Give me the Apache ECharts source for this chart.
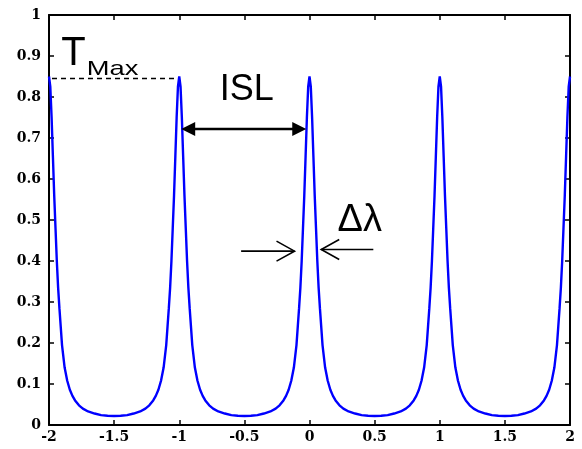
<!DOCTYPE html>
<html>
<head>
<meta charset="utf-8">
<script src="https://cdn.jsdelivr.net/npm/echarts@6/dist/echarts.min.js"></script>
<style>
  html, body { margin: 0; padding: 0; background: #fff; }
  #chart { width: 582px; height: 449px; }
</style>
</head>
<body>
<div id="chart"></div>
<script>
// Transmission peaks of the resonator, one every unit of detuning
const peakCenters = [-2, -1, 0, 1, 2];

// Half-period line shape: distance from a peak centre and transmission there
const profileOffset = [0, 0.01, 0.02, 0.03, 0.04, 0.05, 0.06, 0.07, 0.08, 0.09, 0.10,
                       0.12, 0.14, 0.16, 0.18, 0.20, 0.23, 0.26, 0.30, 0.35, 0.40, 0.45, 0.50];
const profileValue  = [0.850, 0.825, 0.750, 0.655, 0.560, 0.480, 0.400, 0.335, 0.285, 0.240, 0.195,
                       0.140, 0.108, 0.086, 0.071, 0.060, 0.048, 0.040, 0.033, 0.028, 0.024, 0.0225, 0.022];

const xRange = [-2, 2];
const yRange = [0, 1];

// Assemble the curve from the line shape around each peak
function buildCurve() {
  const pts = [];
  const seen = new Set();
  peakCenters.forEach(c => {
    const period = [];
    for (let i = profileOffset.length - 1; i > 0; i--) period.push([-profileOffset[i], profileValue[i]]);
    for (let i = 0; i < profileOffset.length; i++) period.push([profileOffset[i], profileValue[i]]);
    period.forEach(([o, v]) => {
      const x = +(c + o).toFixed(4);
      if (x < xRange[0] || x > xRange[1] || seen.has(x)) return;
      seen.add(x);
      pts.push([x, v]);
    });
  });
  pts.sort((a, b) => a[0] - b[0]);
  return pts;
}

const tickFont = { fontFamily: 'DejaVu Serif', fontWeight: 'bold', fontSize: 14, color: '#000' };

const chart = echarts.init(document.getElementById('chart'), null, { renderer: 'canvas' });

const axisLine = { show: true, onZero: false, lineStyle: { color: '#000', width: 2 } };
const axisTick = { show: true, inside: true, length: 5, lineStyle: { color: '#000', width: 1.5 } };

chart.setOption({
  animation: false,
  backgroundColor: '#fff',
  grid: { left: 49, right: 12, top: 15, bottom: 24 },
  xAxis: [
    {
      type: 'value', min: xRange[0], max: xRange[1], interval: 0.5,
      axisLine, axisTick, splitLine: { show: false },
      axisLabel: Object.assign({ margin: 5 }, tickFont)
    },
    {
      type: 'value', position: 'top', min: xRange[0], max: xRange[1], interval: 0.5,
      axisLine, axisTick, splitLine: { show: false }, axisLabel: { show: false }
    }
  ],
  yAxis: [
    {
      type: 'value', min: yRange[0], max: yRange[1], interval: 0.1,
      axisLine, axisTick, splitLine: { show: false },
      axisLabel: Object.assign({ margin: 8, formatter: v => String(+v.toFixed(1)) }, tickFont)
    },
    {
      type: 'value', position: 'right', min: yRange[0], max: yRange[1], interval: 0.1,
      axisLine, axisTick, splitLine: { show: false }, axisLabel: { show: false }
    }
  ],
  series: [{
    type: 'line',
    data: buildCurve(),
    showSymbol: false,
    smooth: false,
    lineStyle: { color: '#0000ff', width: 2.4 },
    z: 3
  }]
});

// Annotations placed in data coordinates
const px = (x, y) => chart.convertToPixel({ gridIndex: 0 }, [x, y]);
const tMax = profileValue[0];

function arrowOpen(from, to, armLen, armHalf) {
  const [x1, y1] = px(from[0], from[1]);
  const [x2, y2] = px(to[0], to[1]);
  const dir = Math.sign(x2 - x1);
  return [
    { type: 'line', shape: { x1, y1, x2, y2 }, style: { stroke: '#000', lineWidth: 1.6 } },
    { type: 'polyline', shape: { points: [[x2 - dir * armLen, y2 - armHalf], [x2, y2], [x2 - dir * armLen, y2 + armHalf]] },
      style: { stroke: '#000', lineWidth: 1.6, fill: null } }
  ];
}

function arrowDouble(xa, xb, y) {
  const [x1, yy] = px(xa, y);
  const [x2] = px(xb, y);
  const head = 14, half = 7;
  return [
    { type: 'line', shape: { x1: x1 + 4, y1: yy, x2: x2 - 4, y2: yy }, style: { stroke: '#000', lineWidth: 2.5 } },
    { type: 'polygon', shape: { points: [[x1, yy], [x1 + head, yy - half], [x1 + head, yy + half]] }, style: { fill: '#000' } },
    { type: 'polygon', shape: { points: [[x2, yy], [x2 - head, yy - half], [x2 - head, yy + half]] }, style: { fill: '#000' } }
  ];
}

const [dx1, dy] = px(-2, tMax - 0.005);
const [dx2] = px(-1.02, tMax);
const tPos = px(-1.905, 0.857);
const maxPos = px(-1.71, 0.841);
const islPos = px(-0.69, 0.773);
const dlPos = px(0.215, 0.452);

chart.setOption({
  graphic: [
    { type: 'line', shape: { x1: dx1 + 3, y1: dy, x2: dx2, y2: dy },
      style: { stroke: '#000', lineWidth: 1.5, lineDash: [5, 4] }, z: 10 },
    { type: 'text', x: tPos[0], y: tPos[1],
      style: { text: 'T', font: '40px "Liberation Sans"', fill: '#000', textVerticalAlign: 'bottom' }, z: 10 },
    { type: 'text', x: maxPos[0], y: maxPos[1], scaleX: 1.3,
      style: { text: 'Max', font: '21px "Liberation Sans"', fill: '#000', textVerticalAlign: 'bottom' }, z: 10 },
    { type: 'text', x: islPos[0], y: islPos[1],
      style: { text: 'ISL', font: '36px "Liberation Sans"', fill: '#000', textVerticalAlign: 'bottom' }, z: 10 },
    { type: 'text', x: dlPos[0], y: dlPos[1],
      style: { text: 'Δλ', font: '38px "Liberation Sans"', fill: '#000', textVerticalAlign: 'bottom' }, z: 10 },
    ...arrowDouble(-0.985, -0.025, 0.722).map(e => Object.assign(e, { z: 10 })),
    ...arrowOpen([-0.525, 0.424], [-0.115, 0.424], 18, 10).map(e => Object.assign(e, { z: 10 })),
    ...arrowOpen([0.49, 0.428], [0.09, 0.428], 18, 10).map(e => Object.assign(e, { z: 10 }))
  ]
});
</script>
</body>
</html>
